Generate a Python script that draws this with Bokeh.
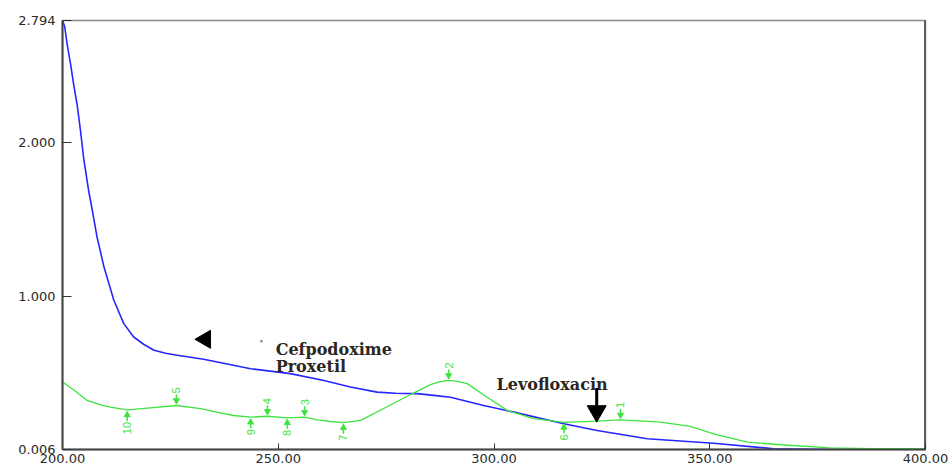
import numpy as np
from bokeh.plotting import figure
from bokeh.models import (ColumnDataSource, FixedTicker, NumeralTickFormatter,
                          Label, Range1d, Span)
from bokeh.core.properties import value
from bokeh.embed import file_html
from bokeh.resources import INLINE

# Cefpodoxime Proxetil absorbance spectrum (nm, absorbance)
cefpo_nm = [200.0, 200.5, 201.1, 201.9, 202.6, 203.4, 204.2, 204.9, 206.1, 206.9, 208.0,
            209.6, 211.9, 214.2, 216.5, 218.8, 221.2, 223.9, 226.6, 232.7, 243.6, 252.8,
            260.6, 266.7, 272.9, 277.2, 282.2, 286.0, 289.9, 297.6, 304.6, 316.2, 323.9,
            335.5, 350.9, 364.8, 378.0, 400.0]
cefpo_abs = [2.794, 2.755, 2.636, 2.506, 2.376, 2.246, 2.072, 1.900, 1.681, 1.562, 1.388,
             1.193, 0.976, 0.824, 0.737, 0.690, 0.651, 0.631, 0.618, 0.592, 0.531, 0.499,
             0.455, 0.412, 0.379, 0.372, 0.369, 0.358, 0.346, 0.292, 0.249, 0.173, 0.130,
             0.076, 0.047, 0.011, 0.006, 0.006]

# Levofloxacin absorbance spectrum (nm, absorbance)
levo_nm = [200.0, 202.8, 205.7, 208.8, 211.1, 215.0, 220.4, 226.4, 232.0, 236.0, 239.6,
           243.6, 247.5, 252.1, 256.1, 259.1, 262.1, 265.1, 269.1, 274.9, 281.0, 285.3,
           287.5, 289.5, 291.5, 293.8, 298.4, 303.1, 309.2, 316.2, 323.9, 329.3, 338.6,
           345.5, 350.9, 358.7, 366.4, 378.0, 387.3, 400.0]
levo_abs = [0.445, 0.390, 0.325, 0.296, 0.281, 0.263, 0.277, 0.292, 0.271, 0.248, 0.227,
            0.216, 0.222, 0.212, 0.216, 0.199, 0.188, 0.180, 0.195, 0.279, 0.368, 0.428,
            0.447, 0.455, 0.449, 0.434, 0.346, 0.260, 0.206, 0.182, 0.190, 0.198, 0.184,
            0.156, 0.108, 0.054, 0.037, 0.017, 0.011, 0.011]

# Peak / valley picks on the Levofloxacin trace
peak_nm = [329.3, 289.5, 256.1, 247.5, 226.4]
peak_labels = ["1", "2", "3", "4", "5"]
valley_nm = [316.2, 265.1, 252.1, 243.6, 215.0]
valley_labels = ["6", "7", "8", "9", "10"]

y_ticks = [0.006, 1.0, 2.0, 2.794]
x_ticks = [200, 250, 300, 350, 400]

Y_MIN, Y_MAX = 0.006, 2.794
X_MIN, X_MAX = 200, 400

FRAME_H = 429
PX = (Y_MAX - Y_MIN) / FRAME_H      # absorbance units per screen pixel

BLUE = "#2626ff"
GREEN = "#3fe33f"

p = figure(width=950, height=472, output_backend="svg", toolbar_location=None,
           x_range=Range1d(X_MIN, X_MAX), y_range=Range1d(Y_MIN, Y_MAX),
           min_border_left=62, min_border_right=25, min_border_top=20, min_border_bottom=23)
p.background_fill_color = "white"
p.border_fill_color = "white"
p.grid.visible = False
p.outline_line_color = "#8a8a8a"
p.outline_line_width = 1.5

# axes
p.xaxis.ticker = FixedTicker(ticks=x_ticks)
p.xaxis.formatter = NumeralTickFormatter(format="0.00")
p.yaxis.ticker = FixedTicker(ticks=y_ticks)
p.yaxis.formatter = NumeralTickFormatter(format="0.000")
for ax in (p.xaxis[0], p.yaxis[0]):
    ax.axis_line_color = "#444444"
    ax.axis_line_width = 2
    ax.major_tick_out = 0
    ax.minor_tick_line_color = None
    ax.major_tick_line_color = "#333333"
    ax.major_label_text_font = "DejaVu Sans"
    ax.major_label_text_font_size = "13px"
    ax.major_label_text_color = "#2a2a2a"
p.yaxis.major_tick_in = 9
p.yaxis.major_label_standoff = 7
p.xaxis.major_tick_in = 6
p.xaxis.major_label_standoff = 4

# heavier right-hand frame edge
p.add_layout(Span(location=X_MAX, dimension="height", line_color="#333333", line_width=2.5))

# spectra
p.line(cefpo_nm, cefpo_abs, line_color=BLUE, line_width=1.6)
p.line(levo_nm, levo_abs, line_color=GREEN, line_width=1.3)

# peak / valley markers on the Levofloxacin trace
peak_abs = np.interp(peak_nm, levo_nm, levo_abs)
valley_abs = np.interp(valley_nm, levo_nm, levo_abs)

pk = ColumnDataSource(dict(x=peak_nm, y=peak_abs, t=peak_labels,
                           y0=peak_abs + 2 * PX, y1=peak_abs + 11 * PX,
                           ym=peak_abs + 5 * PX, yt=peak_abs + 12 * PX))
vl = ColumnDataSource(dict(x=valley_nm, y=valley_abs, t=valley_labels,
                           y0=valley_abs - 2 * PX, y1=valley_abs - 11 * PX,
                           ym=valley_abs - 5 * PX, yt=valley_abs - 12 * PX))

p.segment(x0="x", y0="y0", x1="x", y1="y1", source=pk, line_color=GREEN, line_width=1.5)
p.scatter(x="x", y="ym", source=pk, marker="inverted_triangle", size=6,
          fill_color=GREEN, line_color=GREEN)
p.text(x="x", y="yt", text="t", source=pk, angle=np.pi / 2, text_align="left",
       text_baseline="middle", text_font=value("Liberation Sans"), text_font_size="11px",
       text_color=GREEN)

p.segment(x0="x", y0="y0", x1="x", y1="y1", source=vl, line_color=GREEN, line_width=1.5)
p.scatter(x="x", y="ym", source=vl, marker="triangle", size=6,
          fill_color=GREEN, line_color=GREEN)
p.text(x="x", y="yt", text="t", source=vl, angle=np.pi / 2, text_align="right",
       text_baseline="middle", text_font=value("Liberation Sans"), text_font_size="11px",
       text_color=GREEN)

# compound annotations
ANN_FONT = value("DejaVu Serif")
p.scatter(x=[233.1], y=[0.722], marker="triangle", angle=np.pi / 2, size=18,
          fill_color="black", line_color="black")
p.scatter(x=[246.1], y=[0.709], marker="square", size=2, fill_color="#666666",
          line_color=None)
p.text(x=[249.4, 249.4], y=[0.657, 0.546], text=["Cefpodoxime", "Proxetil"],
       text_align="left", text_baseline="middle", text_font=ANN_FONT,
       text_font_style="bold", text_font_size="16px", text_color="#2a2620")

p.text(x=[300.6], y=[0.429], text=["Levofloxacin"], text_align="left",
       text_baseline="middle", text_font=ANN_FONT, text_font_style="bold",
       text_font_size="16px", text_color="#2a2620")
p.segment(x0=[323.8], y0=[0.405], x1=[323.8], y1=[0.280], line_color="black", line_width=3)
p.scatter(x=[323.8], y=[0.255], marker="inverted_triangle", size=19,
          fill_color="black", line_color="black")

# x-axis title, sitting at the bottom edge of the page
p.add_layout(Label(x=300, y=Y_MIN, y_offset=-12, text="nm", text_align="center",
                   text_baseline="top", text_font_size="11px", text_color="#2a2a2a",
                   text_font="DejaVu Sans"))

open("out.html", "w").write(file_html(p, INLINE))
